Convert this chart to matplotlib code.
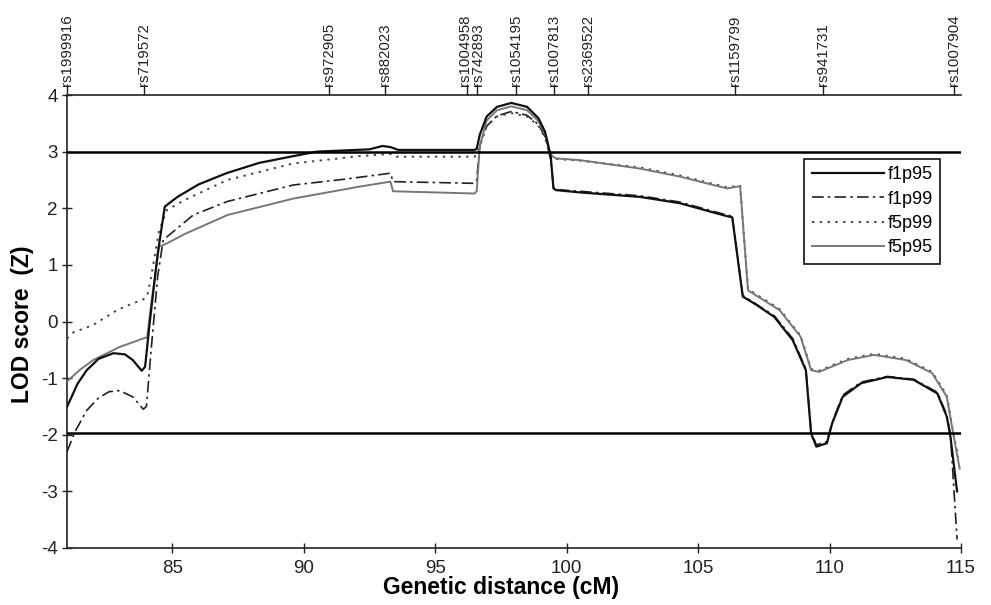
import matplotlib
matplotlib.use("Agg")
import matplotlib.pyplot as plt

plt.rcParams['font.family'] = ['Liberation Sans', 'DejaVu Sans']
plt.rcParams['axes.unicode_minus'] = False

# ---- data ----
marker_names = ["rs1999916", "rs719572", "rs972905", "rs882023", "rs1004958",
                "rs742893", "rs1054195", "rs1007813", "rs2369522", "rs1159799",
                "rs941731", "rs1007904"]
marker_pos = [81.0, 83.93, 90.95, 93.1, 96.2, 96.58, 98.08, 99.52, 100.82,
              106.4, 109.77, 114.74]

f1p95_x = [81.0, 81.4, 81.75, 82.2, 82.76, 83.2, 83.5, 83.84, 83.97, 84.15, 84.45,
           84.72, 85.2, 86.0, 87.07, 88.3, 89.6, 90.5, 91.5, 92.5, 93.0, 93.3, 93.6,
           95.0, 96.5, 96.58, 96.7, 96.96, 97.35, 97.9, 98.5, 98.93, 99.18, 99.3,
           99.4, 99.5, 99.6, 100.5, 102.8, 104.3, 106.1, 106.3, 106.7, 107.2, 107.9,
           108.6, 109.1, 109.3, 109.5, 109.9, 110.1, 110.5, 111.2, 112.2, 113.2,
           114.1, 114.46, 114.6, 114.85]
f1p95_y = [-1.51, -1.1, -0.86, -0.66, -0.56, -0.58, -0.68, -0.87, -0.8, 0.0, 1.2,
           2.03, 2.2, 2.42, 2.62, 2.8, 2.92, 3.0, 3.02, 3.04, 3.1, 3.08, 3.03,
           3.03, 3.03, 3.05, 3.3, 3.62, 3.79, 3.86, 3.79, 3.59, 3.35, 3.12,
           2.9, 2.35, 2.32, 2.28, 2.2, 2.09, 1.86, 1.84, 0.44, 0.3, 0.08,
           -0.33, -0.86, -1.98, -2.21, -2.15, -1.8, -1.33, -1.09, -0.98, -1.03,
           -1.27, -1.68, -2.04, -3.0]

f1p99_x = [81.0, 81.3, 81.75, 82.2, 82.6, 83.0, 83.5, 83.9, 84.02, 84.2, 84.45,
           84.66, 85.8, 87.1, 89.6, 91.5, 93.0, 93.3, 93.4, 96.5, 96.58, 96.7,
           96.96, 97.35, 97.9, 98.5, 98.93, 99.18, 99.3, 99.4, 99.5, 99.6, 100.5,
           102.8, 104.3, 106.1, 106.3, 106.7, 107.9, 108.6, 109.1, 109.3, 109.5,
           109.9, 110.1, 110.5, 111.2, 112.2, 113.2, 114.1, 114.46, 114.6, 114.85]
f1p99_y = [-2.3, -1.95, -1.57, -1.35, -1.24, -1.22, -1.33, -1.55, -1.5, -0.5, 0.8,
           1.44, 1.88, 2.12, 2.41, 2.51, 2.6, 2.62, 2.47, 2.44, 2.5, 3.1,
           3.45, 3.63, 3.71, 3.64, 3.48, 3.26, 3.05, 2.85, 2.38, 2.33, 2.3,
           2.22, 2.11, 1.88, 1.86, 0.46, 0.1, -0.3, -0.84, -1.95, -2.18,
           -2.12, -1.78, -1.3, -1.07, -0.97, -1.02, -1.25, -1.65, -2.0, -3.85]

f5p99_x = [81.0, 81.2, 82.0, 82.9, 83.5, 83.9, 84.05, 84.2, 84.5, 84.8, 85.5, 87.1,
           89.6, 92.1, 93.3, 93.45, 96.5, 96.58, 96.7, 96.96, 97.35, 97.9, 98.5,
           98.93, 99.18, 99.3, 99.45, 99.6, 100.5, 102.8, 104.3, 106.1, 106.6,
           106.9, 108.1, 108.9, 109.3, 109.6, 110.7, 111.7, 112.9, 113.9, 114.46,
           114.7, 114.9]
f5p99_y = [-0.3, -0.2, -0.06, 0.2, 0.32, 0.39, 0.45, 0.79, 1.6, 1.97, 2.15, 2.5,
           2.79, 2.92, 2.96, 2.91, 2.91, 2.95, 3.1, 3.45, 3.62, 3.68, 3.62,
           3.46, 3.24, 3.05, 2.9, 2.87, 2.84, 2.72, 2.58, 2.37, 2.4,
           0.57, 0.22, -0.25, -0.84, -0.87, -0.66, -0.57, -0.66, -0.89, -1.3,
           -1.95, -2.4]

f5p95_x = [81.0, 81.5, 82.0, 83.0, 83.9, 84.05, 84.2, 84.5, 84.8, 85.5, 87.1,
           89.6, 92.1, 93.3, 93.4, 96.5, 96.58, 96.7, 96.96, 97.35, 97.9, 98.5,
           98.93, 99.18, 99.3, 99.45, 99.6, 100.5, 102.8, 104.3, 106.1, 106.6,
           106.9, 108.1, 108.9, 109.3, 109.6, 110.7, 111.7, 112.9, 113.9, 114.46,
           114.7, 114.95]
f5p95_y = [-1.06, -0.85, -0.68, -0.45, -0.3, -0.28, 0.3, 1.32, 1.38, 1.55, 1.88,
           2.17, 2.38, 2.47, 2.3, 2.26, 2.3, 3.1, 3.55, 3.73, 3.8, 3.73,
           3.54, 3.3, 3.08, 2.92, 2.88, 2.85, 2.7, 2.56, 2.35, 2.39,
           0.55, 0.2, -0.27, -0.86, -0.89, -0.68, -0.59, -0.68, -0.91, -1.33,
           -1.97, -2.6]

threshold_lines = [3.0, -1.97]
x_ticks = [85, 90, 95, 100, 105, 110, 115]
y_ticks = [-4, -3, -2, -1, 0, 1, 2, 3, 4]

# small horizontal nudges (pixels) so the two crowded marker names do not collide
label_nudge = {"rs1004958": -1.8, "rs742893": 1.8}

# ---- figure ----
W, H = 991, 605
fig = plt.figure(figsize=(W / 100, H / 100), dpi=100)
ax = fig.add_axes([67 / W, 1 - 548 / H, 894 / W, 453 / H])

ax.plot(f1p95_x, f1p95_y, color='#111111', lw=1.6, label='f1p95', zorder=4)
ax.plot(f1p99_x, f1p99_y, color='#222222', lw=1.2, dashes=(7, 2.5, 1.5, 2.5),
        label='f1p99', zorder=3)
ax.plot(f5p99_x, f5p99_y, color='#444444', lw=1.4, dashes=(1.2, 2.8),
        label='f5p99', zorder=3)
ax.plot(f5p95_x, f5p95_y, color='#777777', lw=1.4, label='f5p95', zorder=3)

for yv in threshold_lines:
    ax.axhline(yv, color='black', lw=1.8, zorder=5)

ax.set_xlim(81, 115)
ax.set_ylim(-4, 4)
ax.set_xticks(x_ticks)
ax.set_yticks(y_ticks)
ax.tick_params(direction='inout', length=7, width=1, labelsize=13.5, colors='#222222')
ax.tick_params(axis='x', pad=5)
ax.tick_params(axis='y', pad=3)
ax.spines['right'].set_visible(False)
for s in ['left', 'bottom', 'top']:
    ax.spines[s].set_linewidth(1.2)
    ax.spines[s].set_color('#222222')

ax.set_xlabel('Genetic distance (cM)', fontsize=16.5, fontweight='bold')
ax.xaxis.set_label_coords(0.485, -0.062)
ax.set_ylabel('LOD score  (Z)', fontsize=16.5, fontweight='bold')
ax.yaxis.set_label_coords(-0.037, 0.494)

# marker ticks on top
ax2 = ax.twiny()
ax2.set_xlim(81, 115)
ax2.set_xticks(marker_pos)
ax2.set_xticklabels([])
ax2.tick_params(axis='x', direction='out', length=8, width=1, colors='#222222')
for s in ax2.spines.values():
    s.set_visible(False)
for name, pos in zip(marker_names, marker_pos):
    ax.annotate(name, xy=(pos, 1.0), xycoords=('data', 'axes fraction'),
                xytext=(label_nudge.get(name, 0.0) * 0.72, 6.8),
                textcoords='offset points', rotation=90, ha='center', va='bottom',
                fontsize=10.8, color='#222222', annotation_clip=False)

leg = ax.legend(loc='upper right', bbox_to_anchor=(0.977, 0.859), borderaxespad=0,
                fontsize=13, handlelength=4.0, handletextpad=0.2, labelspacing=0.4,
                fancybox=False, framealpha=1, edgecolor='#222222', borderpad=0.42)
leg.get_frame().set_linewidth(1.3)

fig.savefig('out.png', dpi=100)
